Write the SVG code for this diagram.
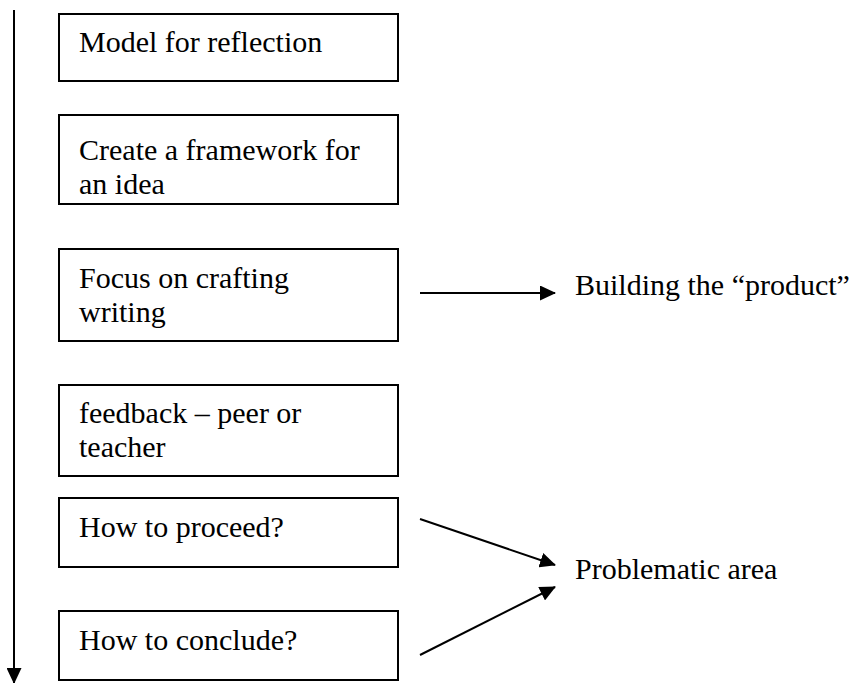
<svg xmlns="http://www.w3.org/2000/svg" width="851" height="683" viewBox="0 0 851 683">
<defs>
<style>
.box{fill:#fff;stroke:#000;stroke-width:2}
.t{font-family:"Liberation Serif","Times New Roman",serif;font-size:30px;fill:#000}
.c{stroke:#000;stroke-width:2;fill:none}
</style>
<marker id="ah" markerUnits="userSpaceOnUse" markerWidth="16" markerHeight="15" viewBox="0 0 16 15" refX="15" refY="7.5" orient="auto">
<path d="M0,0 L16,7.5 L0,15 Z" fill="#000"/>
</marker>
</defs>
<rect width="851" height="683" fill="#fff"/>
<g id="connectors">
<line class="c" x1="14" y1="10" x2="14" y2="683" marker-end="url(#ah)"/>
<line class="c" x1="420" y1="293" x2="555" y2="293" marker-end="url(#ah)"/>
<line class="c" x1="420" y1="519" x2="555" y2="565" marker-end="url(#ah)"/>
<line class="c" x1="420" y1="655" x2="555" y2="587" marker-end="url(#ah)"/>
</g>
<g id="n1"><rect class="box" x="59" y="14" width="339" height="67"/><text class="t" x="79" y="52">Model for reflection</text></g>
<g id="n2"><rect class="box" x="59" y="115" width="339" height="89"/><text class="t" x="79" y="160">Create a framework for</text><text class="t" x="79" y="194">an idea</text></g>
<g id="n3"><rect class="box" x="59" y="249" width="339" height="92"/><text class="t" x="79" y="288">Focus on crafting</text><text class="t" x="79" y="322">writing</text></g>
<g id="n4"><rect class="box" x="59" y="385" width="339" height="91"/><text class="t" x="79" y="423">feedback – peer or</text><text class="t" x="79" y="457">teacher</text></g>
<g id="n5"><rect class="box" x="59" y="498" width="339" height="69"/><text class="t" x="79" y="537">How to proceed?</text></g>
<g id="n6"><rect class="box" x="59" y="611" width="339" height="69"/><text class="t" x="79" y="650">How to conclude?</text></g>
<g id="l1"><text class="t" x="575" y="295">Building the “product”</text></g>
<g id="l2"><text class="t" x="575" y="579">Problematic area</text></g>
</svg>
